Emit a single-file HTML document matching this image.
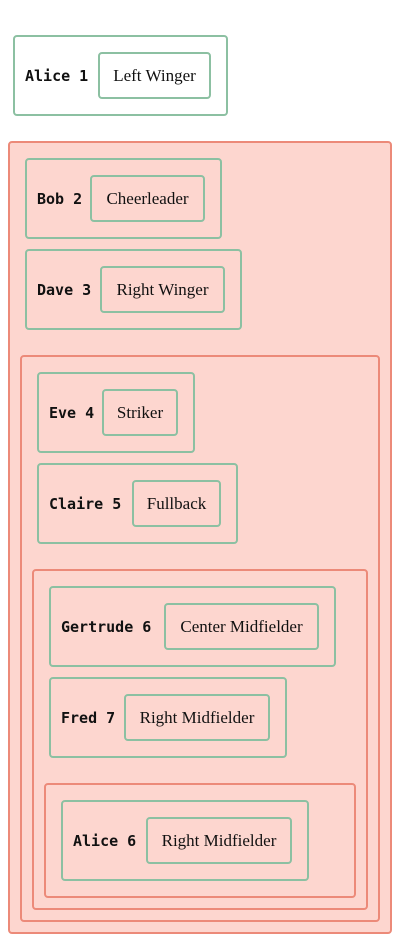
<!DOCTYPE html>
<html><head><meta charset="utf-8"><style>
html,body{margin:0;padding:0;background:#fff;width:400px;height:942px;overflow:hidden}
.g{fill:none;stroke:#8cc0a2;stroke-width:2}
.r{fill:#fdd6cf;stroke:#ec8a79;stroke-width:2}
.w{fill:#fff;stroke:#8cc0a2;stroke-width:2}
.n{font-family:"DejaVu Sans Mono","Liberation Mono",monospace;font-weight:bold;font-size:15px;fill:#111}
.t{font-family:"Liberation Serif",serif;font-size:17px;fill:#111}
</style></head><body>
<svg width="400" height="942" xmlns="http://www.w3.org/2000/svg">
<rect class="w" x="14" y="36" width="213" height="79" rx="3"/>
<rect class="g" x="99" y="53" width="111" height="45" rx="3"/>
<text class="n" x="25" y="81">Alice 1</text><text class="t" x="154.5" y="81" text-anchor="middle">Left Winger</text>

<rect class="r" x="9" y="142" width="382" height="791" rx="3"/>
<rect class="g" x="26" y="159" width="195" height="79" rx="3"/>
<rect class="g" x="91" y="176" width="113" height="45" rx="3"/>
<text class="n" x="37" y="204">Bob 2</text><text class="t" x="147.5" y="204" text-anchor="middle">Cheerleader</text>

<rect class="g" x="26" y="250" width="215" height="79" rx="3"/>
<rect class="g" x="101" y="267" width="123" height="45" rx="3"/>
<text class="n" x="37" y="295">Dave 3</text><text class="t" x="162.5" y="295" text-anchor="middle">Right Winger</text>

<rect class="r" x="21" y="356" width="358" height="565" rx="3"/>
<rect class="g" x="38" y="373" width="156" height="79" rx="3"/>
<rect class="g" x="103" y="390" width="74" height="45" rx="3"/>
<text class="n" x="49" y="418">Eve 4</text><text class="t" x="140" y="418" text-anchor="middle">Striker</text>

<rect class="g" x="38" y="464" width="199" height="79" rx="3"/>
<rect class="g" x="133" y="481" width="87" height="45" rx="3"/>
<text class="n" x="49" y="509">Claire 5</text><text class="t" x="176.5" y="509" text-anchor="middle">Fullback</text>

<rect class="r" x="33" y="570" width="334" height="339" rx="3"/>
<rect class="g" x="50" y="587" width="285" height="79" rx="3"/>
<rect class="g" x="165" y="604" width="153" height="45" rx="3"/>
<text class="n" x="61" y="632">Gertrude 6</text><text class="t" x="241.5" y="632" text-anchor="middle">Center Midfielder</text>

<rect class="g" x="50" y="678" width="236" height="79" rx="3"/>
<rect class="g" x="125" y="695" width="144" height="45" rx="3"/>
<text class="n" x="61" y="723">Fred 7</text><text class="t" x="197" y="723" text-anchor="middle">Right Midfielder</text>

<rect class="r" x="45" y="784" width="310" height="113" rx="3"/>
<rect class="g" x="62" y="801" width="246" height="79" rx="3"/>
<rect class="g" x="147" y="818" width="144" height="45" rx="3"/>
<text class="n" x="73" y="846">Alice 6</text><text class="t" x="219" y="846" text-anchor="middle">Right Midfielder</text>
</svg>
</body></html>
